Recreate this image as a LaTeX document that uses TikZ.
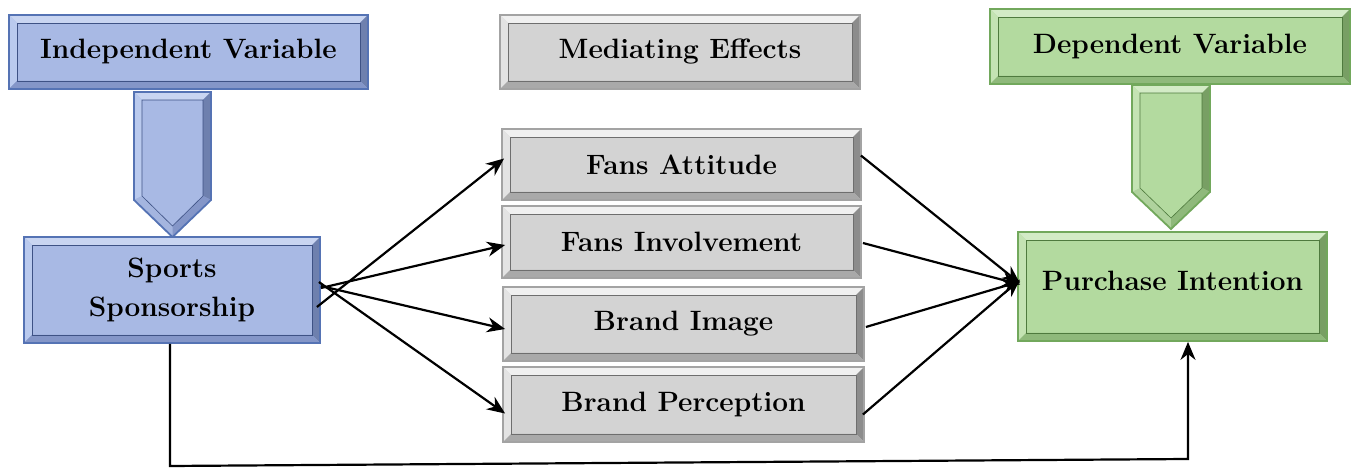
\documentclass[tikz,border=0pt]{standalone}
\usetikzlibrary{arrows.meta,calc}
\definecolor{bluefill}{HTML}{A8B9E4}
\definecolor{bluetop}{HTML}{C9D5F1}
\definecolor{blueleft}{HTML}{BACAEE}
\definecolor{blueright}{HTML}{6E80AE}
\definecolor{bluebottom}{HTML}{8496C8}
\definecolor{blueline}{HTML}{5573B4}
\definecolor{blueinner}{HTML}{3E5285}
\definecolor{grayfill}{HTML}{D3D3D3}
\definecolor{graytop}{HTML}{F0F0F0}
\definecolor{grayleft}{HTML}{E3E3E3}
\definecolor{grayright}{HTML}{8C8C8C}
\definecolor{graybottom}{HTML}{A9A9A9}
\definecolor{grayline}{HTML}{A3A3A3}
\definecolor{grayinner}{HTML}{6E6E6E}
\definecolor{greenfill}{HTML}{B3DA9F}
\definecolor{greentop}{HTML}{D3EBC6}
\definecolor{greenleft}{HTML}{C4E3B3}
\definecolor{greenright}{HTML}{789F64}
\definecolor{greenbottom}{HTML}{8FB97B}
\definecolor{greenline}{HTML}{72A85C}
\definecolor{greeninner}{HTML}{4F7A3E}
\newcommand{\bevd}{4pt}
\tikzset{
  bevbox/.style={rectangle, inner sep=0pt, align=center, line width=0.9pt,
    font=\bfseries\fontsize{14}{19.5}\selectfont,
    draw=#1line, fill=#1fill,
    path picture={
      \coordinate (ppnw) at (path picture bounding box.north west);
      \coordinate (ppne) at (path picture bounding box.north east);
      \coordinate (ppsw) at (path picture bounding box.south west);
      \coordinate (ppse) at (path picture bounding box.south east);
      \coordinate (ipnw) at ([shift={(\bevd,-\bevd)}]ppnw);
      \coordinate (ipne) at ([shift={(-\bevd,-\bevd)}]ppne);
      \coordinate (ipsw) at ([shift={(\bevd,\bevd)}]ppsw);
      \coordinate (ipse) at ([shift={(-\bevd,\bevd)}]ppse);
      \fill[#1top] (ppnw) -- (ppne) -- (ipne) -- (ipnw) -- cycle;
      \fill[#1left] (ppnw) -- (ipnw) -- (ipsw) -- (ppsw) -- cycle;
      \fill[#1right] (ppne) -- (ipne) -- (ipse) -- (ppse) -- cycle;
      \fill[#1bottom] (ppsw) -- (ipsw) -- (ipse) -- (ppse) -- cycle;
      \draw[#1inner, line width=0.3pt] (ipnw) rectangle (ipse);
    }},
  link/.style={line width=1.1pt, -{Stealth[length=9pt,width=7.5pt]}}
}
\newcommand{\bevarrow}[6]{%
  \pgfmathsetmacro{\bevxm}{(#1+#2)/2}
  \fill[#6fill] (#1,#3)--(#2,#3)--(#2,#4)--(\bevxm,#5)--(#1,#4)--cycle;
  \fill[#6top] (#1,#3)--(#2,#3)--({#2-8},{#3+8})--({#1+8},{#3+8})--cycle;
  \fill[#6left] (#1,#3)--({#1+8},{#3+8})--({#1+8},{#4-4})--(#1,#4)--cycle;
  \fill[#6right] (#2,#3)--({#2-8},{#3+8})--({#2-8},{#4-4})--(#2,#4)--cycle;
  \fill[#6left!60!#6bottom] (#1,#4)--({#1+8},{#4-4})--(\bevxm,{#5-11})--(\bevxm,#5)--cycle;
  \fill[#6bottom] (#2,#4)--({#2-8},{#4-4})--(\bevxm,{#5-11})--(\bevxm,#5)--cycle;
  \draw[#6inner, line width=0.3pt] ({#1+8},{#3+8})--({#2-8},{#3+8})--({#2-8},{#4-4})--(\bevxm,{#5-11})--({#1+8},{#4-4})--cycle;
  \draw[#6line, line width=0.9pt, line join=miter] (#1,#3)--(#2,#3)--(#2,#4)--(\bevxm,#5)--(#1,#4)--cycle;
}
\begin{document}
\begin{tikzpicture}[x=0.5pt,y=-0.5pt]
\useasboundingbox (0,0) rectangle (1356,470);
% down arrows
\bevarrow{134}{211}{92}{200}{237}{blue}
\bevarrow{1132}{1210}{85}{192}{229}{green}
% boxes
\node[bevbox=blue, minimum width=179.5pt, minimum height=37pt] (iv) at (188.5,52) {Independent Variable};
\node[bevbox=gray, minimum width=180pt, minimum height=37pt] (me) at (680,52) {Mediating Effects};
\node[bevbox=green, minimum width=180pt, minimum height=37.5pt] (dv) at (1170,46.5) {Dependent Variable};
\node[bevbox=gray, minimum width=179.5pt, minimum height=35.5pt] (fa) at (681.5,164.5) {Fans Attitude};
\node[bevbox=gray, minimum width=179.5pt, minimum height=36pt] (fi) at (681.5,242) {Fans Involvement};
\node[bevbox=gray, minimum width=180.5pt, minimum height=37pt] (bi) at (683.5,324) {Brand Image};
\node[bevbox=gray, minimum width=180.5pt, minimum height=37.5pt] (bp) at (683.5,404.5) {Brand Perception};
\node[bevbox=blue, minimum width=148pt, minimum height=53pt] (ss) at (172,290) {Sports\\Sponsorship};
\node[bevbox=green, minimum width=154.5pt, minimum height=54.5pt] (pi) at (1172.5,286.5) {\raisebox{6pt}{Purchase Intention}};
% connectors from Sports Sponsorship
\draw[link] ($(ss.east)+(-4,17)$) -- ($(fa.west)+(3,-6)$);
\draw[link] ($(ss.east)+(0,-2)$) -- ($(fi.west)+(4,3)$);
\draw[link] ($(ss.east)+(0,-4)$) -- ($(bi.west)+(3,5)$);
\draw[link] ($(ss.east)+(-2,-8)$) -- ($(bp.west)+(3,9)$);
% connectors to Purchase Intention
\draw[link] ($(fa.east)+(-1,-9)$) -- ($(pi.west)+(3,-3)$);
\draw[link] ($(fi.east)+(1,1)$) -- ($(pi.west)+(3,-2)$);
\draw[link] ($(bi.east)+(1,3)$) -- ($(pi.west)+(3,-5)$);
\draw[link] ($(bp.east)+(-2,10)$) -- ($(pi.west)+(3,-7)$);
% direct path
\coordinate (b1) at (170,466);
\coordinate (b2) at (1188,459);
\draw[link] ($(ss.south)+(-2,0)$) -- (b1) -- (b2) -- (b2 |- pi.south);
\end{tikzpicture}
\end{document}
